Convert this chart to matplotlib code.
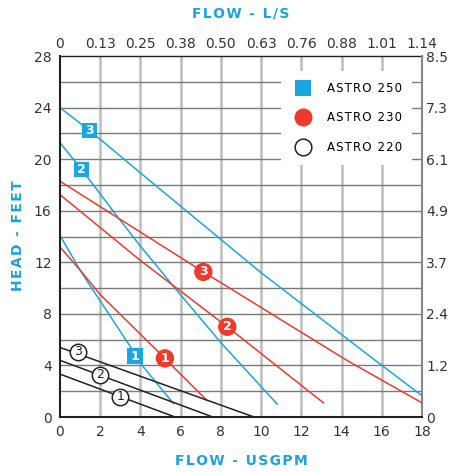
import numpy as np
import matplotlib.pyplot as plt
from matplotlib.lines import Line2D

# Flow (USGPM) / head (feet) points
astro250 = {
    '1': ([0, 1.0, 1.33, 3.4, 4.14, 5.64], [14.1, 11.4, 10.6, 5.7, 3.9, 1.05]),
    '2': ([0, 1.08, 2.98, 3.98, 5.8, 8.04, 10.8], [21.3, 19.2, 15.3, 13.3, 9.85, 5.7, 1.0]),
    '3': ([0, 1.46, 4.96, 10.0, 15.67, 18.0], [24.0, 22.25, 17.7, 11.2, 4.4, 1.65]),
}
astro230 = {
    '1': ([0, 1.0, 2.0, 4.89, 7.3], [13.2, 11.4, 9.5, 5.06, 1.3]),
    '2': ([0, 3.98, 8.32, 13.1], [17.26, 12.17, 7.0, 1.1]),
    '3': ([0, 7.13, 14.26, 18.0], [18.3, 11.26, 4.4, 1.1]),
}
astro220 = {
    '1': ([0, 5.72], [3.33, 0.0]),
    '2': ([0, 7.6], [4.4, 0.0]),
    '3': ([0, 9.65], [5.4, 0.0]),
}

# where the speed numbers sit on each curve
marks250 = {'1': (3.73, 4.73), '2': (1.08, 19.2), '3': (1.46, 22.25)}
marks230 = {'1': (5.22, 4.55), '2': (8.32, 7.0), '3': (7.13, 11.26)}
marks220 = {'1': (3.0, 1.57), '2': (2.0, 3.26), '3': (0.9, 5.06)}

gpm_ticks = [0, 2, 4, 6, 8, 10, 12, 14, 16, 18]
ls_labels = ['0', '0.13', '0.25', '0.38', '0.50', '0.63', '0.76', '0.88', '1.01', '1.14']
ft_ticks = [0, 4, 8, 12, 16, 20, 24, 28]
m_labels = ['0', '1.2', '2.4', '3.7', '4.9', '6.1', '7.3', '8.5']

BLUE = '#1aa6e0'
RED = '#ee3a2a'
BLACK = '#222222'
TITLE = '#1aa3dc'
TICK = '#333333'


def spaced(s, sep='\u200a'):
    return sep.join(s)


fig = plt.figure(figsize=(4.54, 4.72), dpi=100)
ax = fig.add_axes([0.132, 0.1165, 0.7975, 0.7645])
ax.set_xlim(0, 18)
ax.set_ylim(0, 28)

# grid
for x in gpm_ticks[1:-1]:
    ax.axvline(x, color='#bdbdbd', lw=1.8, zorder=0)
for y in range(2, 28, 2):
    ax.axhline(y, color='#7a7a7a', lw=1.0, zorder=0)

for k, (xs, ys) in astro250.items():
    ax.plot(xs, ys, color=BLUE, lw=1.1, zorder=2)
for k, (xs, ys) in astro230.items():
    ax.plot(xs, ys, color=RED, lw=1.1, zorder=2)
for k, (xs, ys) in astro220.items():
    ax.plot(xs, ys, color=BLACK, lw=1.1, zorder=2)

for k, (x, y) in marks250.items():
    ax.scatter(x, y, marker='s', s=125, color=BLUE, edgecolor='none', zorder=4)
    ax.text(x, y, k, color='white', ha='center', va='center', fontsize=9, fontweight='bold', zorder=5)
for k, (x, y) in marks230.items():
    ax.scatter(x, y, marker='o', s=175, color=RED, edgecolor='none', zorder=4)
    ax.text(x, y, k, color='white', ha='center', va='center', fontsize=9, fontweight='bold', zorder=5)
for k, (x, y) in marks220.items():
    ax.scatter(x, y, marker='o', s=140, color='white', edgecolor=BLACK, lw=1.1, zorder=4)
    ax.text(x, y, k, color=BLACK, ha='center', va='center', fontsize=9, zorder=5)

ax.set_xticks(gpm_ticks)
ax.set_yticks(ft_ticks)
ax.tick_params(length=0, labelsize=10, labelcolor=TICK, pad=6)

top = ax.secondary_xaxis('top')
top.set_ticks(gpm_ticks, labels=ls_labels)
top.tick_params(length=0, labelsize=10, labelcolor=TICK, pad=4)
top.spines['top'].set_color(BLACK)
top.spines['top'].set_linewidth(1.0)

right = ax.secondary_yaxis('right')
right.set_ticks(ft_ticks, labels=m_labels)
right.tick_params(length=0, labelsize=10, labelcolor=TICK, pad=3)
right.spines['right'].set_color('#888888')
right.spines['right'].set_linewidth(1.5)

for side in ['left', 'bottom']:
    ax.spines[side].set_color(BLACK)
    ax.spines[side].set_linewidth(1.5)
ax.spines['top'].set_visible(False)
ax.spines['right'].set_visible(False)

fig.text(0.531, 0.972, spaced('FLOW - L/S'), color=TITLE, fontsize=10, fontweight='bold', ha='center', va='center')
fig.text(0.531, 0.023, spaced('FLOW - USGPM'), color=TITLE, fontsize=10, fontweight='bold', ha='center', va='center')
fig.text(0.04, 0.5, spaced('HEAD - FEET'), color=TITLE, fontsize=10, fontweight='bold', ha='center', va='center', rotation=90)

handles = [
    Line2D([], [], marker='s', ls='none', color=BLUE, markersize=12, markeredgewidth=0),
    Line2D([], [], marker='o', ls='none', color=RED, markersize=13, markeredgewidth=0),
    Line2D([], [], marker='o', ls='none', markerfacecolor='white', markeredgecolor=BLACK, markersize=12, markeredgewidth=1.1),
]
names = [spaced('ASTRO 250'), spaced('ASTRO 230'), spaced('ASTRO 220')]
leg = ax.legend(handles, names, loc='upper right', bbox_to_anchor=(0.99, 0.975), fontsize=8.5,
                frameon=True, facecolor='white', edgecolor='none', framealpha=1, fancybox=False,
                labelspacing=1.42, handletextpad=1.0, borderpad=0.9)
leg.set_zorder(6)

fig.savefig('out.png', dpi=100)
